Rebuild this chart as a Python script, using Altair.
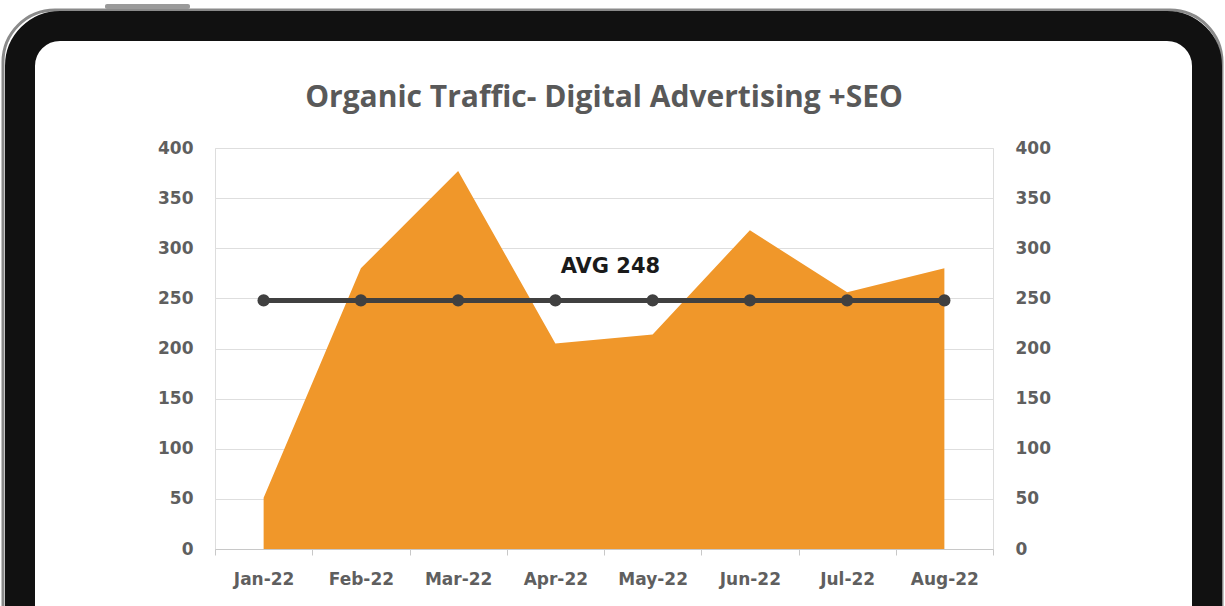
import altair as alt
import pandas as pd

months = ["Jan-22", "Feb-22", "Mar-22", "Apr-22", "May-22", "Jun-22", "Jul-22", "Aug-22"]
traffic = [51, 280, 377, 205, 214, 318, 256, 280]
avg_value = 248
avg_label = "AVG 248"
title_text = "Organic Traffic- Digital Advertising +SEO"

df = pd.DataFrame({"month": months, "traffic": traffic, "avg": [avg_value] * len(months)})

W, H = 778, 401
LEFT, TOP = 215, 148

xscale = alt.Scale(type="band", domain=months, paddingInner=0, paddingOuter=0)
yscale = alt.Scale(domain=[0, 400])
font = "Open Sans"
lab_font = "DejaVu Sans"
lab_size = 17
lab_weight = "bold"
lab_color = "#5f5f5f"

base = alt.Chart(df)

# tablet bezel (decoration): a thick stroked rounded rectangle, no fill
frame_df = pd.DataFrame({"k": [0]})
outline = alt.Chart(frame_df).mark_rect(fill=None, fillOpacity=0, stroke="#8a8a8a", strokeWidth=3, cornerRadius=52).encode(
    x=alt.value(3 - LEFT), x2=alt.value(1222 - LEFT), y=alt.value(10 - TOP), y2=alt.value(800 - TOP))
bezel = alt.Chart(frame_df).mark_rect(fill=None, fillOpacity=0, stroke="#111111", strokeWidth=30, cornerRadius=40).encode(
    x=alt.value(20 - LEFT), x2=alt.value(1207 - LEFT), y=alt.value(26 - TOP), y2=alt.value(800 - TOP))
button = alt.Chart(frame_df).mark_rect(color="#9a9a9a", cornerRadius=2).encode(
    x=alt.value(105 - LEFT), x2=alt.value(190 - LEFT), y=alt.value(4 - TOP), y2=alt.value(9 - TOP))
title = alt.Chart(frame_df).mark_text(text=title_text, font=font, fontSize=30, fontWeight="bold",
                                      color="#595959", align="center", baseline="alphabetic").encode(
    x=alt.value(W / 2), y=alt.value(107 - TOP))

area = base.mark_area(color="#F0972A", opacity=1).encode(
    x=alt.X("month:N", scale=xscale, sort=months, bandPosition=0.5,
            axis=alt.Axis(title=None, labelAngle=0, tickBand="extent", ticks=True, tickSize=6,
                          tickColor="#c8c8c8", domainColor="#c8c8c8", labelFont=lab_font, labelFontSize=lab_size,
                          labelFontWeight=lab_weight, labelColor=lab_color, labelPadding=16, grid=False)),
    y=alt.Y("traffic:Q", scale=yscale,
            axis=alt.Axis(title=None, orient="left", values=list(range(0, 401, 50)), grid=True,
                          gridColor="#dedede", domain=False, ticks=False, labelFont=lab_font,
                          labelFontSize=lab_size, labelFontWeight=lab_weight, labelColor=lab_color,
                          labelPadding=22)),
)

line = base.mark_line(color="#404040", strokeWidth=5).encode(
    x=alt.X("month:N", scale=xscale, sort=months, bandPosition=0.5),
    y=alt.Y("avg:Q", scale=yscale,
            axis=alt.Axis(title=None, orient="right", values=list(range(0, 401, 50)), grid=False,
                          domain=False, ticks=False, labelFont=lab_font, labelFontSize=lab_size,
                          labelFontWeight=lab_weight, labelColor=lab_color, labelPadding=22)),
)
pts = base.mark_point(color="#404040", filled=True, size=150, opacity=1).encode(
    x=alt.X("month:N", scale=xscale, sort=months, bandPosition=0.5),
    y=alt.Y("avg:Q", scale=yscale, axis=None),
)
lab_df = pd.DataFrame({"month": ["Apr-22"], "avg": [avg_value], "label": [avg_label]})
label = alt.Chart(lab_df).mark_text(font=lab_font, fontSize=21, fontWeight="bold", color="#1a1a1a",
                                    dx=55, dy=-33).encode(
    x=alt.X("month:N", scale=xscale, sort=months, bandPosition=0.5),
    y=alt.Y("avg:Q", scale=yscale, axis=None),
    text="label:N",
)

chart = alt.layer(area, line, pts, label, outline, bezel, button, title).resolve_axis(y="independent").properties(
    width=W, height=H,
    autosize=alt.AutoSizeParams(type="none"),
    padding={"left": LEFT, "top": TOP, "right": 1225 - LEFT - W, "bottom": 606 - TOP - H},
).configure_view(stroke=None, clip=False).configure(background="white")

chart.save("out.html", embed_options={"renderer": "svg", "actions": False})
